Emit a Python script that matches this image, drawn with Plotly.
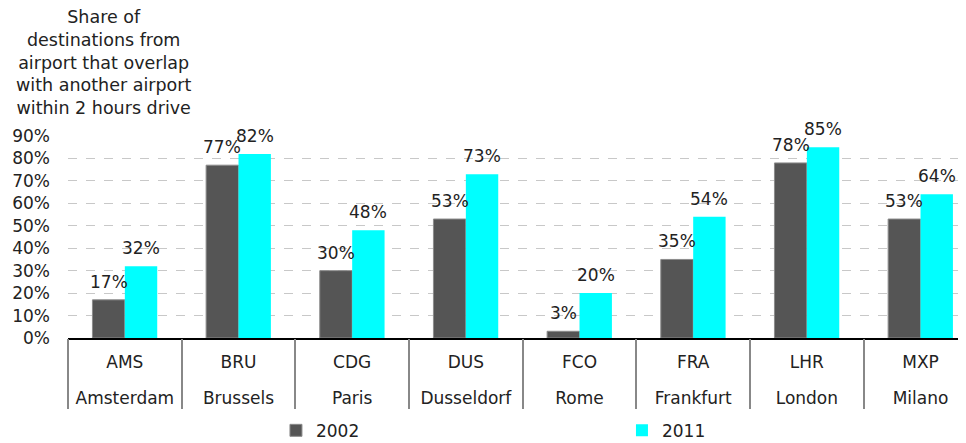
import plotly.graph_objects as go

# ---- data ----
codes = ["AMS", "BRU", "CDG", "DUS", "FCO", "FRA", "LHR", "MXP"]
cities = ["Amsterdam", "Brussels", "Paris", "Dusseldorf", "Rome", "Frankfurt", "London", "Milano"]
share_2002 = [0.17, 0.77, 0.30, 0.53, 0.03, 0.35, 0.78, 0.53]
share_2011 = [0.32, 0.82, 0.48, 0.73, 0.20, 0.54, 0.85, 0.64]
y_ticks = [0.0, 0.1, 0.2, 0.3, 0.4, 0.5, 0.6, 0.7, 0.8, 0.9]
series_names = ["2002", "2011"]
title_text = ("Share of<br>destinations from<br>airport that overlap<br>"
              "with another airport<br>within 2 hours drive")

FONT = "DejaVu Sans"
FS = 17
DARK = "#555555"
CYAN = "#00FFFF"
BARGAP = 0.43

fig = go.Figure()
fig.add_bar(x=codes, y=share_2002, name=series_names[0],
            marker=dict(color=DARK, line=dict(color="#8c8c8c", width=1)))
fig.add_bar(x=codes, y=share_2011, name=series_names[1],
            marker=dict(color=CYAN, line=dict(width=0)))

# value labels above each bar
off = (1 - BARGAP) / 4
for i, (a, b) in enumerate(zip(share_2002, share_2011)):
    for dx, v in ((-off, a), (off, b)):
        fig.add_annotation(x=i + dx, y=v, xref="x", yref="y",
                           text=f"{round(v * 100)}%", showarrow=False,
                           yanchor="bottom", yshift=6,
                           font=dict(family=FONT, size=FS, color="#222222"))

# y-axis title block
fig.add_annotation(xref="paper", yref="paper", x=0.039, y=1.649,
                   text=title_text, showarrow=False, align="center",
                   xanchor="center", yanchor="top",
                   font=dict(family=FONT, size=17.5, color="#222222"))

xr = [-0.5, 7.4]
fig.update_layout(
    width=966, height=443,
    margin=dict(l=60, r=8, t=128, b=113, autoexpand=False),
    paper_bgcolor="white", plot_bgcolor="white",
    barmode="group", bargap=BARGAP, bargroupgap=0,
    font=dict(family=FONT, size=FS, color="#222222"),
    showlegend=True,
    legend=dict(orientation="h", xref="container", yref="container",
                x=0.2774, y=0.005, xanchor="left", yanchor="bottom",
                entrywidth=301, font=dict(family=FONT, size=FS),
                itemclick=False, itemdoubleclick=False),
    xaxis=dict(type="category", range=xr, showgrid=False, automargin=False,
               showline=True, linecolor="black", linewidth=1.5,
               ticks="", tickfont=dict(family=FONT, size=FS),
               ticklabelstandoff=8),
    xaxis2=dict(type="category", range=xr, overlaying="x", side="bottom",
                showgrid=False, showline=False, ticks="", automargin=False,
                tickmode="array", tickvals=codes, ticktext=cities,
                tickfont=dict(family=FONT, size=FS), ticklabelstandoff=48),
    xaxis3=dict(type="category", range=xr, overlaying="x", side="bottom",
                showgrid=False, showline=False, ticks="outside", automargin=False,
                tickson="boundaries", ticklen=70, tickcolor="#888888",
                tickwidth=1.5, showticklabels=False,
                tickmode="array", tickvals=codes),
    yaxis=dict(range=[0, 0.9], tickvals=y_ticks, tickformat=".0%",
               showgrid=True, gridcolor="#c8c8c8", griddash="dash",
               gridwidth=1, zeroline=False, showline=False, ticks="",
               automargin=False,
               tickfont=dict(family=FONT, size=FS), ticklabelstandoff=17),
)
# invisible traces to bind the extra axes
fig.add_scatter(x=codes, y=[None] * len(codes), xaxis="x2", showlegend=False,
                hoverinfo="skip")
fig.add_scatter(x=codes, y=[None] * len(codes), xaxis="x3", showlegend=False,
                hoverinfo="skip")

fig.write_html("out.html")
